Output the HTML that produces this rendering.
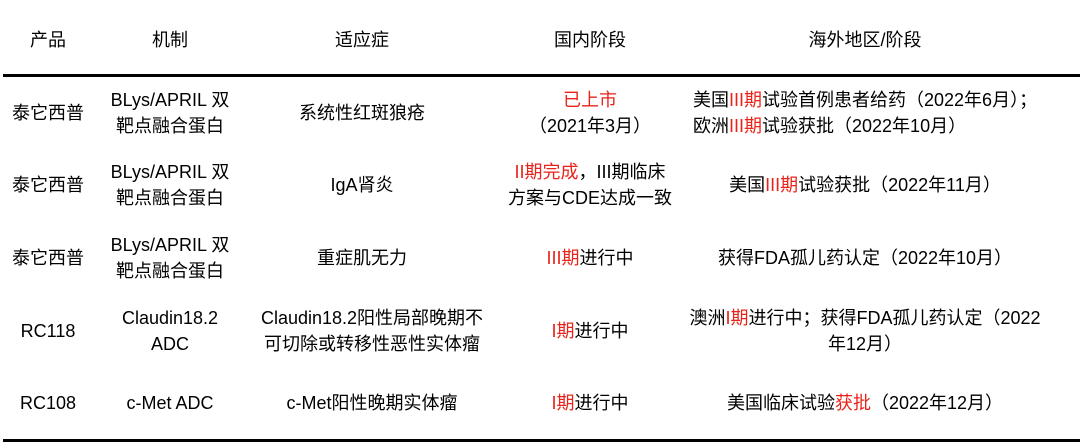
<!DOCTYPE html>
<html><head><meta charset="utf-8"><style>
body{margin:0;width:1080px;height:445px;background:#fff;position:relative;overflow:hidden;font-family:"Liberation Sans","Noto Sans CJK SC",sans-serif;font-size:18px;color:#000}
.c{position:absolute;transform:translate(-50%,-50%);text-align:center;line-height:26px;white-space:nowrap}
.r{color:#e8231a}
.l{position:absolute;left:3px;width:1077px;height:3px;background:#000}
</style></head><body>
<div class="l" style="top:74px"></div>
<div class="l" style="top:439px"></div>
<div class="c" style="left:48px;top:40px">产品</div>
<div class="c" style="left:170px;top:40px">机制</div>
<div class="c" style="left:362px;top:40px">适应症</div>
<div class="c" style="left:590px;top:40px">国内阶段</div>
<div class="c" style="left:865px;top:40px">海外地区/阶段</div>

<div class="c" style="left:48px;top:113px">泰它西普</div>
<div class="c" style="left:170px;top:113px">BLys/APRIL 双<br>靶点融合蛋白</div>
<div class="c" style="left:362px;top:113px">系统性红斑狼疮</div>
<div class="c" style="left:590px;top:113px"><span class="r">已上市</span><br>（2021年3月）</div>
<div class="c" style="left:693px;top:113px;transform:translate(0,-50%);text-align:left">美国<span class="r">III期</span>试验首例患者给药（2022年6月）；<br>欧洲<span class="r">III期</span>试验获批（2022年10月）</div>

<div class="c" style="left:48px;top:185px">泰它西普</div>
<div class="c" style="left:170px;top:185px">BLys/APRIL 双<br>靶点融合蛋白</div>
<div class="c" style="left:362px;top:185px">IgA肾炎</div>
<div class="c" style="left:590px;top:185px"><span class="r">II期完成</span>，III期临床<br>方案与CDE达成一致</div>
<div class="c" style="left:865px;top:185px">美国<span class="r">III期</span>试验获批（2022年11月）</div>

<div class="c" style="left:48px;top:258px">泰它西普</div>
<div class="c" style="left:170px;top:258px">BLys/APRIL 双<br>靶点融合蛋白</div>
<div class="c" style="left:362px;top:258px">重症肌无力</div>
<div class="c" style="left:590px;top:258px"><span class="r">III期</span>进行中</div>
<div class="c" style="left:865px;top:258px">获得FDA孤儿药认定（2022年10月）</div>

<div class="c" style="left:48px;top:331px">RC118</div>
<div class="c" style="left:170px;top:331px">Claudin18.2<br>ADC</div>
<div class="c" style="left:372px;top:331px">Claudin18.2阳性局部晚期不<br>可切除或转移性恶性实体瘤</div>
<div class="c" style="left:590px;top:331px"><span class="r">I期</span>进行中</div>
<div class="c" style="left:865px;top:331px">澳洲<span class="r">I期</span>进行中；获得FDA孤儿药认定（2022<br>年12月）</div>

<div class="c" style="left:48px;top:403px">RC108</div>
<div class="c" style="left:170px;top:403px">c-Met ADC</div>
<div class="c" style="left:372px;top:403px">c-Met阳性晚期实体瘤</div>
<div class="c" style="left:590px;top:403px"><span class="r">I期</span>进行中</div>
<div class="c" style="left:865px;top:403px">美国临床试验<span class="r">获批</span>（2022年12月）</div>
</body></html>
